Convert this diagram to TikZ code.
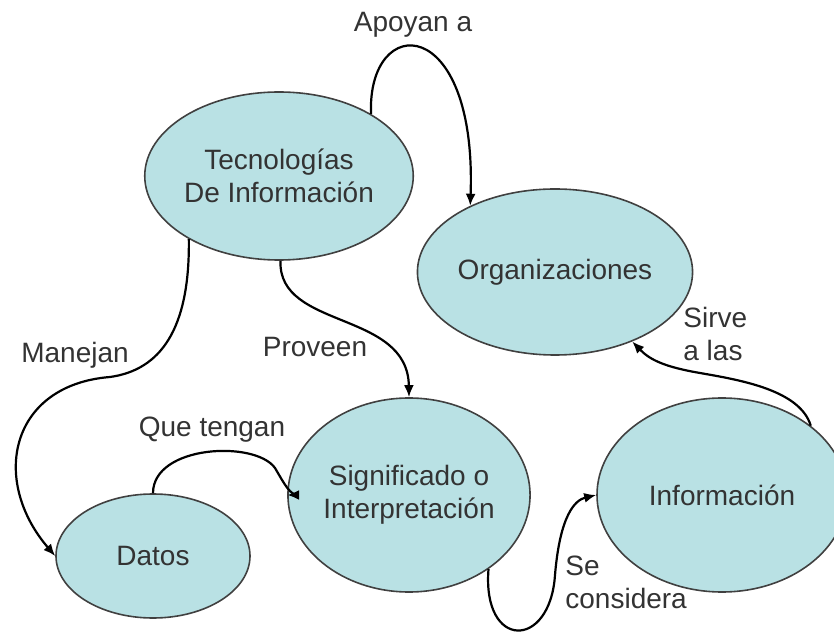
\documentclass[tikz,border=0pt]{standalone}
\usepackage{fontspec}
\setmainfont{Liberation Sans}
\usetikzlibrary{shapes.geometric,arrows.meta}

\definecolor{celeste}{RGB}{185,225,228}

\tikzset{
  concepto/.style={ellipse,draw=black!75,line width=0.8pt,fill=celeste,inner sep=0pt,align=center,text=black!80},
  relacion/.style={line width=1.1pt,-{Latex[length=6pt,width=5pt]}},
  etiqueta/.style={inner sep=0pt,align=left,text=black!80}
}

\begin{document}
\begin{tikzpicture}[x=0.5pt,y=-0.5pt,font=\fontsize{14}{16.5}\selectfont]

    \useasboundingbox (0,0) rectangle (834,635);

    % conceptos
    \node[concepto,minimum width=124pt,minimum height=84pt] (tec) at (279,176) {Tecnologías\\De Información};
    \node[concepto,minimum width=112pt,minimum height=83pt] (org) at (555,272) {Organizaciones};
    \node[concepto,minimum width=104pt,minimum height=97pt] (sig) at (409,495) {Significado o\\Interpretación};
    \node[concepto,minimum width=97pt,minimum height=62pt] (datos) at (153,556) {Datos};
    \node[concepto,minimum width=125pt,minimum height=97pt] (info) at (722,495) {Información};

    % etiquetas
    \node[etiqueta] (lapoyan) at (413,25) {Apoyan a};
    \node[etiqueta] (lmanejan) at (75,355) {Manejan};
    \node[etiqueta] (lproveen) at (315,347) {Proveen};
    \node[etiqueta] (lque) at (212,430) {Que tengan};
    \node[etiqueta,anchor=west] (lse) at (565,582) {Se\\considera};
    \node[etiqueta,anchor=west] (lsirve) at (683,334) {Sirve\\a las};

    % relaciones
    \draw[relacion] (tec.34) .. controls (367,12) and (477,12) .. (org.142);
    \draw[relacion] (tec.215) .. controls (190,330) and (160,370) .. (110,377)
                    .. controls (10,385) and (-10,480) .. (datos.180);
    \draw[relacion] (tec.271) .. controls (278,330) and (408,310) .. (sig.90);
    \draw[relacion] (datos.90) .. controls (153,445) and (255,440) .. (275,468)
                    .. controls (285,485) and (290,495) .. (sig.180);
    \draw[relacion] (sig.317) .. controls (482,650) and (550,650) .. (555,575)
                    .. controls (560,515) and (575,500) .. (info.180);
    \draw[relacion] (info.38) .. controls (800,390) and (740,380) .. (700,373)
                    .. controls (665,367) and (650,360) .. (org.318);

\end{tikzpicture}
\end{document}
